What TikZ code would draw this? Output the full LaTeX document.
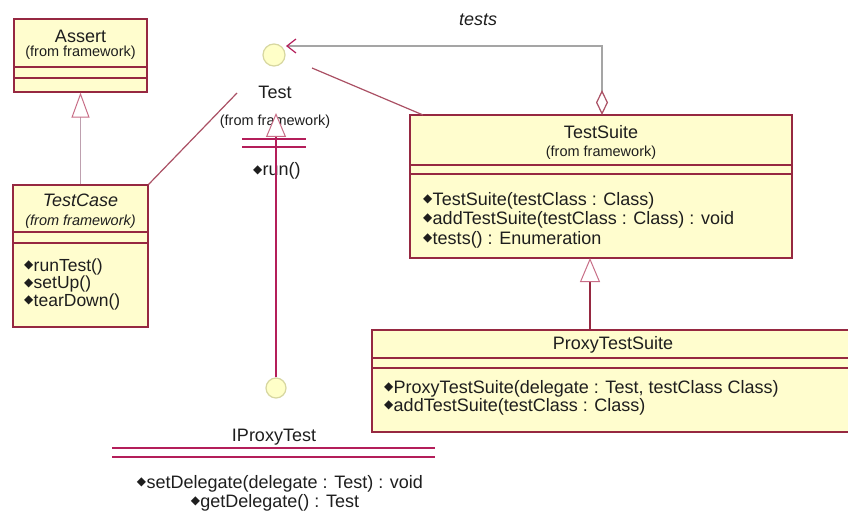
\documentclass[tikz,border=0pt]{standalone}
\usepackage{fontspec}
\setmainfont{Liberation Sans}
\newfontfamily\symfont{DejaVu Sans}
\usetikzlibrary{arrows.meta}
\definecolor{boxfill}{RGB}{255,253,206}
\definecolor{boxdraw}{RGB}{150,40,65}
\definecolor{txt}{RGB}{30,30,30}
\definecolor{genline}{RGB}{190,160,175}
\definecolor{gentri}{RGB}{200,110,135}
\definecolor{assoc}{RGB}{170,80,100}
\definecolor{realline}{RGB}{180,30,90}
\definecolor{testsline}{RGB}{165,165,165}
\definecolor{circfill}{RGB}{255,255,200}
\definecolor{circdraw}{RGB}{215,215,160}
\newcommand\opicon{\raisebox{2.5pt}{\symfont\fontsize{12}{12}\selectfont ◆}\kern0.3pt}
\begin{document}
\begin{tikzpicture}[x=1pt,y=-1pt,
  cls/.style={draw=boxdraw, fill=boxfill, line width=1.2pt, inner sep=0pt},
  title/.style={font=\fontsize{18}{20}\selectfont, text=txt, inner sep=0pt},
  fromfw/.style={font=\fontsize{14.5}{16}\selectfont, text=txt, inner sep=0pt},
  meth/.style={font=\fontsize{18}{20}\selectfont, text=txt, inner sep=0pt, anchor=base west},
  cmeth/.style={font=\fontsize{18}{20}\selectfont, text=txt, inner sep=0pt, anchor=base},
  sepline/.style={draw=boxdraw, line width=1.6pt},
  ifline/.style={draw=realline, line width=1.2pt},
  circ/.style={circle, draw=circdraw, fill=circfill, line width=1.2pt, inner sep=0pt},
  genarrow/.style={draw=genline, line width=1.6pt, -{Triangle[open, fill=white, length=25pt, width=18pt, color=gentri, line width=1pt]}},
  genarrow2/.style={draw=boxdraw, line width=1.4pt, -{Triangle[open, fill=white, length=24pt, width=20pt, color=gentri, line width=1pt]}},
  realarrow/.style={draw=realline, line width=1.4pt, -{Triangle[open, fill=white, length=24pt, width=20pt, color=gentri, line width=1pt]}},
  assocline/.style={draw=assoc, line width=1.2pt},
  testsarrow/.style={draw=testsline, line width=1.6pt,
    {Diamond[open, fill=white, length=25pt, width=12pt, color=assoc, line width=1.2pt]}-{Straight Barb[length=9pt, width=14pt, color=realline, line width=1.2pt]}}
]
\useasboundingbox[fill=white] (0,0) rectangle (848,513);

% ---- Assert ----
\node[cls, minimum width=133pt, minimum height=73pt] (assert) at (80.5,55.5) {};
\draw[sepline] (14,67) -- (147,67);
\draw[sepline] (14,78) -- (147,78);
\node[title] (assertname) at (80.5,36) {Assert};
\node[fromfw] (assertfrom) at (80.5,53) {(from framework)};

% ---- TestCase ----
\node[cls, minimum width=135pt, minimum height=142pt] (testcase) at (80.5,256) {};
\draw[sepline] (13,232) -- (148,232);
\draw[sepline] (13,243) -- (148,243);
\node[title, font=\fontsize{18}{20}\selectfont\itshape] (tcname) at (80.5,200) {TestCase};
\node[fromfw, font=\fontsize{14.5}{16}\selectfont\itshape] (tcfrom) at (80.5,222) {(from framework)};
\node[meth, font=\fontsize{17.5}{20}\selectfont] (tc1) at (24,271) {\opicon runTest()};
\node[meth, font=\fontsize{17.5}{20}\selectfont] (tc2) at (24,288.5) {\opicon setUp()};
\node[meth, font=\fontsize{17.5}{20}\selectfont] (tc3) at (24,306) {\opicon tearDown()};

% ---- Test (interface) ----
\node[circ, minimum size=22pt] (testc) at (274,55) {};
\node[title] (testname) at (275,92) {Test};
\node[fromfw] (testfrom) at (275,122) {(from framework)};
\draw[ifline] (242,139) -- (306,139);
\draw[ifline] (242,147) -- (306,147);
\node[meth] (testrun) at (253,176) {\opicon run()};

% ---- IProxyTest (interface) ----
\node[circ, minimum size=20pt] (ipc) at (276,388) {};
\node[title] (ipname) at (274,437) {IProxyTest};
\draw[ifline] (112,448) -- (435,448);
\draw[ifline] (112,457) -- (435,457);
\node[cmeth] (ip1) at (280,488) {\opicon setDelegate(delegate : Test) : void};
\node[cmeth] (ip2) at (275,507) {\opicon getDelegate() : Test};

% ---- TestSuite ----
\node[cls, minimum width=382pt, minimum height=143pt] (testsuite) at (601,186.5) {};
\draw[sepline] (410,165) -- (792,165);
\draw[sepline] (410,174) -- (792,174);
\node[title] (tsname) at (601,132) {TestSuite};
\node[fromfw] (tsfrom) at (601,153) {(from framework)};
\node[meth] (ts1) at (423,205) {\opicon TestSuite(testClass : Class)};
\node[meth] (ts2) at (423,224.5) {\opicon addTestSuite(testClass : Class) : void};
\node[meth] (ts3) at (423,244) {\opicon tests() : Enumeration};

% ---- ProxyTestSuite ----
\node[cls, minimum width=480pt, minimum height=102pt] (proxy) at (612,381) {};
\draw[sepline] (372,358) -- (848,358);
\draw[sepline] (372,368) -- (848,368);
\node[title] (pname) at (613,345) {ProxyTestSuite};
\node[meth] (p1) at (384,393) {\opicon ProxyTestSuite(delegate : Test, testClass Class)};
\node[meth] (p2) at (384,411) {\opicon addTestSuite(testClass : Class)};

% ---- connectors ----
\coordinate (tcassocend) at (237,93);
\coordinate (tsassocstart) at (312,68);
\coordinate (tsassocend) at (423,115);
\coordinate (aggstart) at (602,115);
\coordinate (aggcorner) at (602,46);
\coordinate (aggtip) at (286,46);
\coordinate (realtip) at (276,113);
\coordinate (g1) at (590,330);
\coordinate (g2) at (590,258);

\draw[genarrow] (testcase.north) -- (assert.south);
\draw[assocline] (testcase.north east) -- (tcassocend);
\draw[assocline] (tsassocstart) -- (tsassocend);
\draw[testsarrow] (aggstart) -- (aggcorner) -- (aggtip);
\node[title, font=\fontsize{18}{20}\selectfont\itshape] (testslbl) at (478,20) {tests};
\draw[realarrow] (ipc.north) -- (realtip);
\draw[genarrow2] (g1) -- (g2);
\end{tikzpicture}
\end{document}
